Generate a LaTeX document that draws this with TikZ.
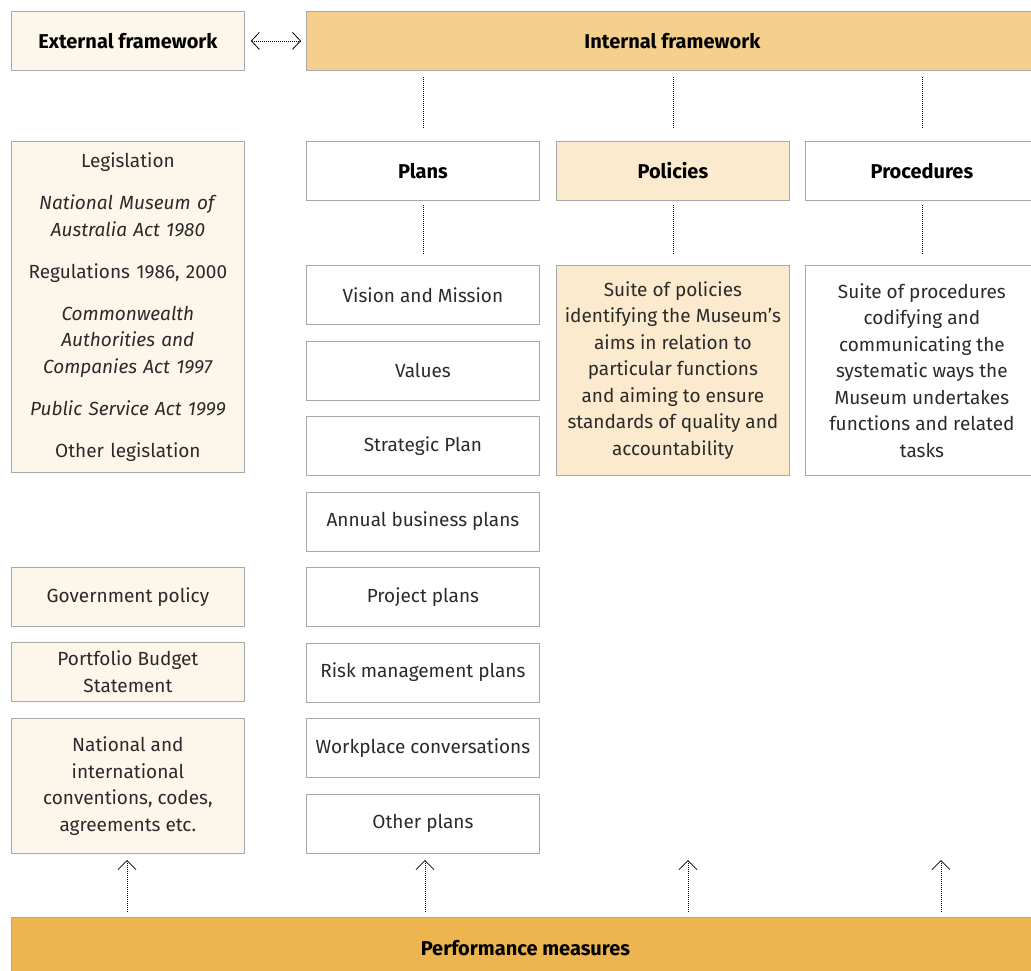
\documentclass[tikz,border=0pt]{standalone}
\usepackage{fontspec}
\setmainfont{Fira Sans}
\usetikzlibrary{arrows.meta}
\definecolor{extfill}{HTML}{FDF6EA}
\definecolor{intfill}{HTML}{F5CF8C}
\definecolor{polfill}{HTML}{FBEACE}
\definecolor{perffill}{HTML}{ECB54F}
\definecolor{edgegray}{HTML}{A8A8A8}
\definecolor{inktext}{HTML}{2A2A2A}
\newcommand{\plainfont}{\fontsize{19}{26.5}\selectfont}
\newcommand{\headfont}{\fontsize{20}{26.5}\selectfont\bfseries}
\begin{document}
\begin{tikzpicture}[x = 1pt, y = -1pt,
  every node/.style = {shape = rectangle, anchor = north west, inner sep = 0pt, align = center, text = inktext, font = \plainfont},
  box/.style = {draw = edgegray, line width = 0.8pt, minimum width = 233pt, minimum height = 59pt},
  head/.style = {box, font = \headfont, text = black},
  link/.style = {draw = black, line width = 0.8pt, dash pattern = on 1pt off 1pt},
  sidelink/.style = {link, {Straight Barb[length = 8pt, width = 17pt, line width = 0.8pt]}-{Straight Barb[length = 8pt, width = 17pt, line width = 0.8pt]}, shorten < = 6pt, shorten > = 5pt},
  uplink/.style = {link, -{Straight Barb[length = 9pt, width = 18pt, line width = 0.8pt]}, shorten < = 5pt, shorten > = 7pt}]
  \useasboundingbox (0,0) rectangle (1031,970);
  % top row
  \node[head, fill = extfill] (ext) at (11,11) {External framework};
  \node[head, fill = intfill, minimum width = 732pt] (int) at (306,11) {Internal framework};
  % second row
  \node[head] (plans) at (306,141) {Plans};
  \node[head, fill = polfill] (pol) at (556,141) {Policies};
  \node[head] (proc) at (805,141) {Procedures};
  % plans column
  \foreach \txt [count = \i] in {Vision and Mission, Values, Strategic Plan, Annual business plans,
      Project plans, Risk management plans, Workplace conversations, Other plans}
    \node[box] (plan\i) at (306, {265 + 75.5*(\i - 1)}) {\txt};
  % external column
  \node[box, fill = extfill, text width = 233pt, minimum height = 331pt] (leg) at (11,141)
    {Legislation\\[15.5pt]
     \textit{National Museum of}\\ \textit{Australia Act 1980}\\[15.5pt]
     Regulations 1986, 2000\\[15.5pt]
     \textit{Commonwealth}\\ \textit{Authorities and}\\ \textit{Companies Act 1997}\\[15.5pt]
     \textit{Public Service Act 1999}\\[15.5pt]
     Other legislation};
  \node[box, fill = extfill] (gov) at (11,567) {Government policy};
  \node[box, fill = extfill] (pbs) at (11,642) {Portfolio Budget\\Statement};
  \node[box, fill = extfill, minimum height = 135pt] (intl) at (11,718)
    {National and\\international\\conventions, codes,\\agreements etc.};
  % policies and procedures
  \node[box, fill = polfill, minimum height = 210pt] (poltxt) at (556,265)
    {Suite of policies\\identifying the Museum's\\aims in relation to\\particular functions\\and aiming to ensure\\standards of quality and\\accountability};
  \node[box, minimum height = 210pt] (proctxt) at (805,265)
    {Suite of procedures\\codifying and\\communicating the\\systematic ways the\\Museum undertakes\\functions and related\\tasks};
  % bottom
  \node[head, fill = perffill, minimum width = 1028pt, minimum height = 62pt] (perf) at (11,917) {Performance measures};
  % connectors
  \draw[sidelink] (ext) -- (int);
  \foreach \col/\item in {plans/plan1, pol/poltxt, proc/proctxt} {
    \draw[link, shorten < = 6pt, shorten > = 13pt] (int.south -| \col.north) -- (\col.north);
    \draw[link, shorten < = 4pt, shorten > = 11pt] (\col.south) -- (\item.north);
  }
  \foreach \x [count = \i] in {127, 425, 688, 941} {
    \coordinate (up\i) at (\x,853);
    \draw[uplink] (perf.north -| up\i) -- (up\i);
  }
\end{tikzpicture}
\end{document}
